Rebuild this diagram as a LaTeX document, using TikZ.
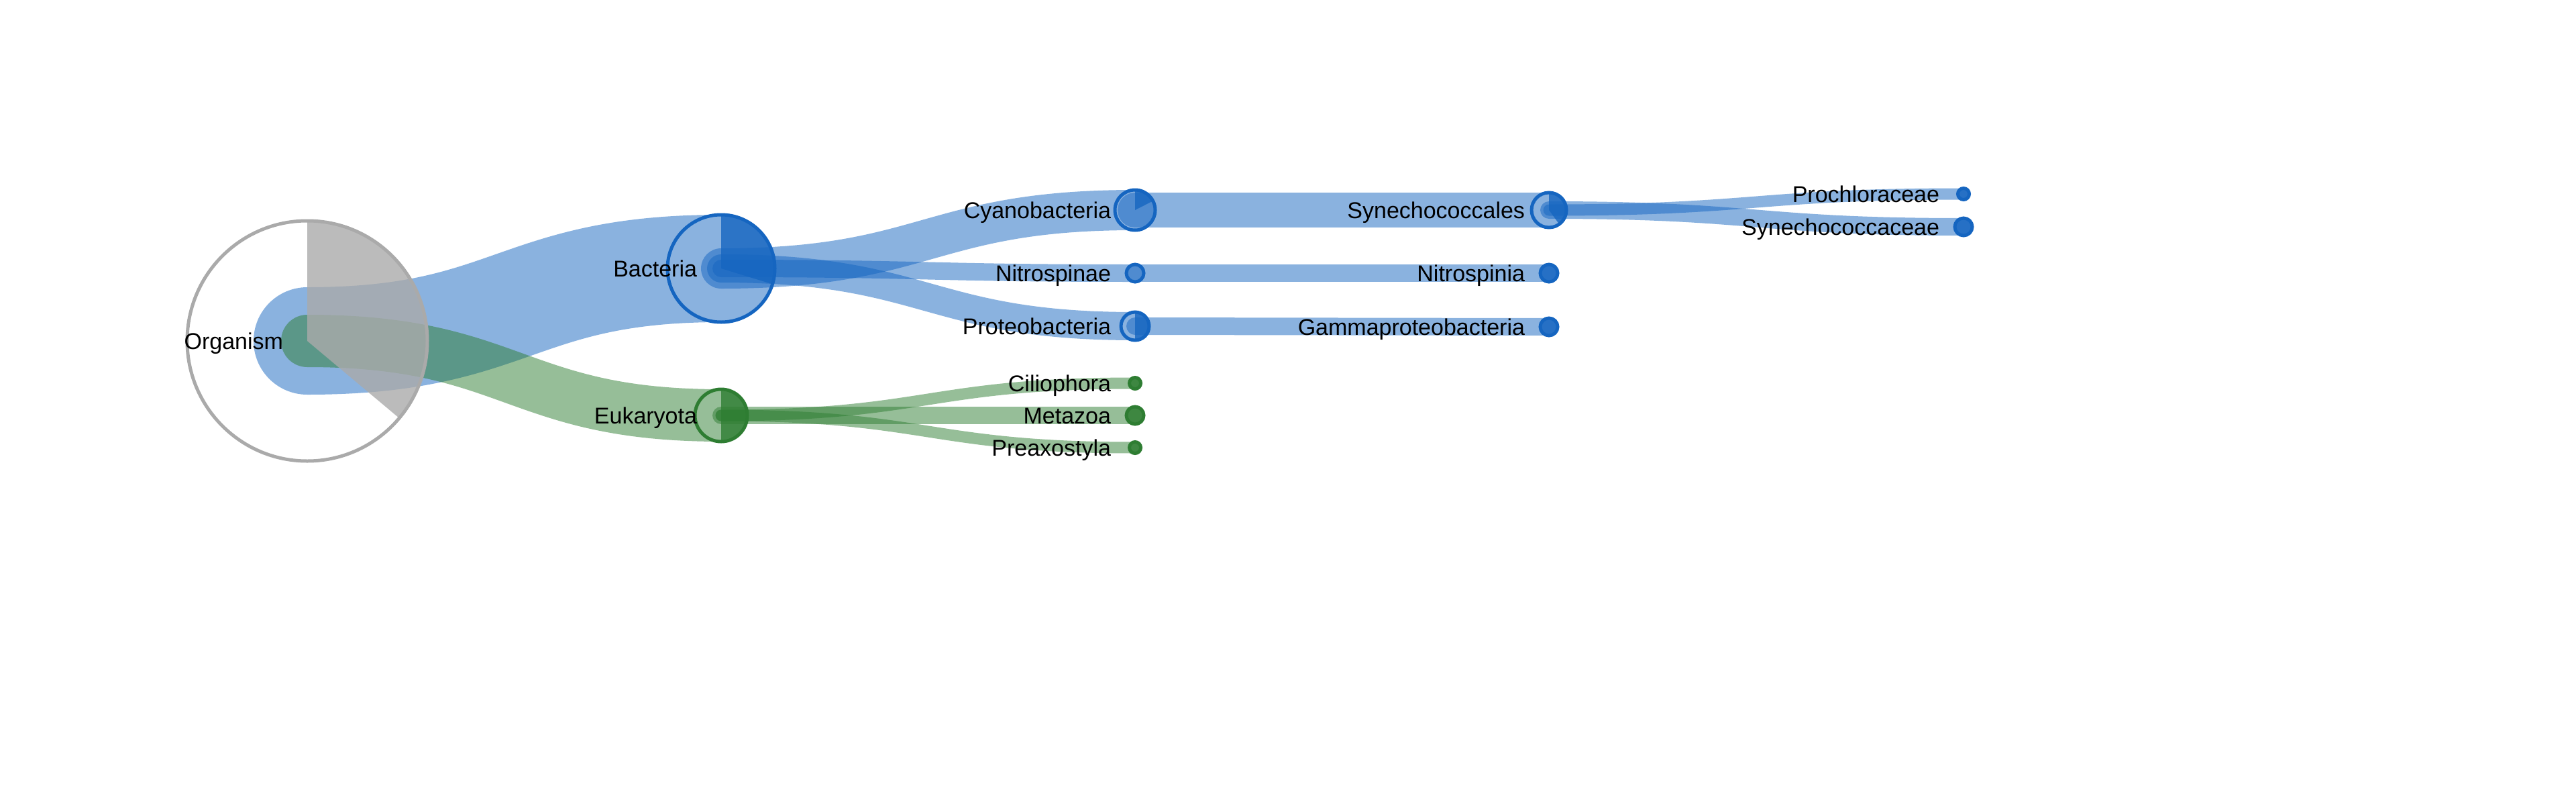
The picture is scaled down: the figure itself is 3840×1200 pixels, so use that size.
\documentclass[tikz,border=0pt]{standalone}
\usepackage{fontspec}
\setmainfont{Liberation Sans}
\usetikzlibrary{calc}
\pgfdeclarelayer{background}
\pgfsetlayers{background,main}
\definecolor{bblue}{HTML}{1565C0}
\definecolor{bgreen}{HTML}{2E7D32}
\definecolor{bgray}{HTML}{AAAAAA}
\tikzset{
  tnode/.style={circle, inner sep=0pt, outer sep=0pt, line width=5pt, minimum size=#1pt},
  leafb/.style={draw=bblue, fill=bblue, fill opacity=0.85},
  leafg/.style={draw=bgreen, fill=bgreen, fill opacity=0.85},
  linkstyle/.style={line cap=round, draw opacity=0.5},
  lab/.style={anchor=base east, inner sep=0pt, outer sep=0pt, text=black, font=\fontsize{34pt}{40pt}\selectfont},
}
\newcommand\taxlink[4]{%
  \draw[linkstyle, draw=#4, line width=#3pt] let \p1=(#1.center), \p2=(#2.center) in
    (\p1) .. controls ({(\x1+\x2)/2},\y1) and ({(\x1+\x2)/2},\y2) .. (\p2);}
\newcommand\taxwedge[4]{%
  \fill[#4, fill opacity=0.8] (#1.center) -- ++(90:#2pt) arc[start angle=90, end angle=#3, radius=#2pt] -- cycle;}
\newcommand\taxlabel[3]{%
  \node[lab] (#1) at ($(#2.center)+(-36,12)$) {#3};}
\begin{document}
\begin{tikzpicture}[x=1pt,y=-1pt]
\useasboundingbox (0,0) rectangle (3840,1200);
% nodes
\node[tnode=358, draw=bgray] (org) at (458,508) {};
\node[tnode=160, draw=bblue] (bac) at (1075,400) {};
\node[tnode=78, draw=bgreen] (euk) at (1075,619) {};
\node[tnode=60, draw=bblue] (cya) at (1692,313) {};
\node[tnode=26, draw=bblue] (nsp) at (1692,407) {};
\node[tnode=42, draw=bblue] (pro) at (1692,486) {};
\node[tnode=52, draw=bblue] (syn) at (2309,313) {};
\node[tnode=26, leafb] (nia) at (2309,407) {};
\node[tnode=26, leafb] (gam) at (2309,487) {};
\node[tnode=17, leafb] (prc) at (2927,289) {};
\node[tnode=26, leafb] (sca) at (2927,338) {};
\node[tnode=17, leafg] (cil) at (1692,571) {};
\node[tnode=26, leafg] (met) at (1692,619) {};
\node[tnode=17, leafg] (pre) at (1692,667) {};
% links
\begin{pgfonlayer}{background}
\taxlink{org}{bac}{160}{bblue}
\taxlink{org}{euk}{78}{bgreen}
\taxlink{bac}{cya}{60}{bblue}
\taxlink{bac}{nsp}{26}{bblue}
\taxlink{bac}{pro}{42}{bblue}
\taxlink{cya}{syn}{52}{bblue}
\taxlink{nsp}{nia}{26}{bblue}
\taxlink{pro}{gam}{26}{bblue}
\taxlink{syn}{prc}{17}{bblue}
\taxlink{syn}{sca}{26}{bblue}
\taxlink{euk}{cil}{17}{bgreen}
\taxlink{euk}{met}{26}{bgreen}
\taxlink{euk}{pre}{17}{bgreen}
\end{pgfonlayer}
% pie wedges
\taxwedge{org}{179}{-40}{bgray}
\taxwedge{bac}{80}{-17}{bblue}
\taxwedge{euk}{39}{-90}{bgreen}
\taxwedge{cya}{30}{27}{bblue}
\taxwedge{pro}{21}{-90}{bblue}
\taxwedge{syn}{26}{-54}{bblue}
% labels
\taxlabel{lorg}{org}{Organism}
\taxlabel{lbac}{bac}{Bacteria}
\taxlabel{leuk}{euk}{Eukaryota}
\taxlabel{lcya}{cya}{Cyanobacteria}
\taxlabel{lnsp}{nsp}{Nitrospinae}
\taxlabel{lpro}{pro}{Proteobacteria}
\taxlabel{lsyn}{syn}{Synechococcales}
\taxlabel{lnia}{nia}{Nitrospinia}
\taxlabel{lgam}{gam}{Gammaproteobacteria}
\taxlabel{lprc}{prc}{Prochloraceae}
\taxlabel{lsca}{sca}{Synechococcaceae}
\taxlabel{lcil}{cil}{Ciliophora}
\taxlabel{lmet}{met}{Metazoa}
\taxlabel{lpre}{pre}{Preaxostyla}
\end{tikzpicture}
\end{document}
